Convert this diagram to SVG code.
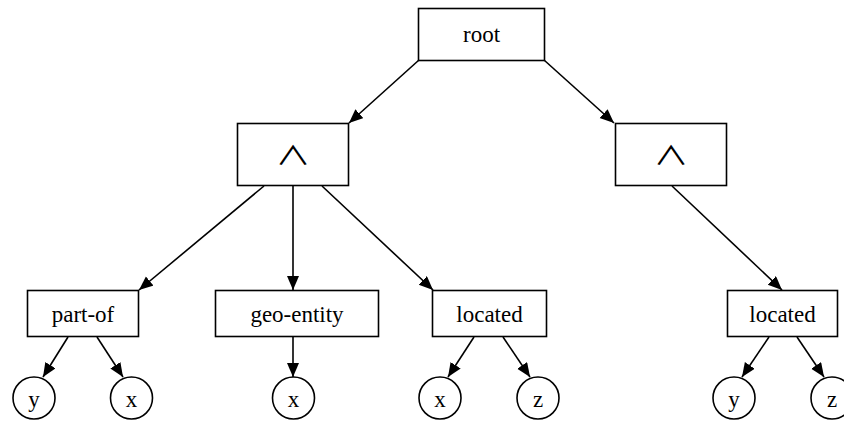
<svg xmlns="http://www.w3.org/2000/svg" width="844" height="426" viewBox="0 0 844 426">
<style>
.box{fill:#fff;stroke:#000;stroke-width:1.6}
.c{fill:#fff;stroke:#000;stroke-width:1.6}
text{font-family:"Liberation Serif","Times New Roman",serif;font-size:23px;fill:#000;text-anchor:middle}
.and{font-family:"Noto Sans CJK JP","DejaVu Sans",sans-serif;font-size:26px;font-weight:400}
.e{stroke:#000;stroke-width:1.6;fill:none;marker-end:url(#ah)}
</style>
<defs>
<marker id="ah" markerUnits="userSpaceOnUse" markerWidth="16" markerHeight="14" refX="14" refY="6" orient="auto" viewBox="0 0 16 14">
<path d="M0,0 L14,6 L0,12 z" fill="#000"/>
</marker>
</defs>
<rect width="844" height="426" fill="#fff"/>
<g id="connectors">
<line class="e" x1="419" y1="60" x2="349" y2="123"/>
<line class="e" x1="544" y1="60" x2="614" y2="123"/>
<line class="e" x1="264" y1="186" x2="139" y2="290"/>
<line class="e" x1="293" y1="186" x2="293" y2="290"/>
<line class="e" x1="322" y1="186" x2="433" y2="290"/>
<line class="e" x1="672" y1="186" x2="782" y2="290"/>
<line class="e" x1="68" y1="337" x2="43" y2="377"/>
<line class="e" x1="97" y1="337" x2="123" y2="377"/>
<line class="e" x1="293" y1="337" x2="293" y2="377"/>
<line class="e" x1="474" y1="337" x2="448" y2="377"/>
<line class="e" x1="503" y1="337" x2="530" y2="377"/>
<line class="e" x1="769" y1="337" x2="742" y2="377"/>
<line class="e" x1="797" y1="337" x2="824" y2="377"/>
</g>
<g id="root"><rect class="box" x="418.5" y="8.5" width="126" height="52"/><text x="481.5" y="42">root</text></g>
<g id="and1"><rect class="box" x="237.5" y="123.5" width="111" height="62"/><text class="and" transform="translate(293 165) scale(1.35 1)">∧</text></g>
<g id="and2"><rect class="box" x="615.5" y="123.5" width="111" height="62"/><text class="and" transform="translate(671 165) scale(1.35 1)">∧</text></g>
<g id="partof"><rect class="box" x="27.5" y="290.5" width="111" height="46"/><text x="83" y="322">part-of</text></g>
<g id="geoentity"><rect class="box" x="215.5" y="290.5" width="163" height="46"/><text x="297" y="322">geo-entity</text></g>
<g id="located1"><rect class="box" x="432.5" y="290.5" width="114" height="46"/><text x="489.5" y="322">located</text></g>
<g id="located2"><rect class="box" x="727.5" y="290.5" width="110" height="46"/><text x="782.5" y="322">located</text></g>
<g id="y1"><circle class="c" cx="34" cy="398" r="21"/><text x="34" y="407">y</text></g>
<g id="x1"><circle class="c" cx="131.5" cy="398" r="21"/><text x="131.5" y="407">x</text></g>
<g id="x2"><circle class="c" cx="293.5" cy="398" r="21"/><text x="293.5" y="407">x</text></g>
<g id="x3"><circle class="c" cx="440" cy="398" r="21"/><text x="440" y="407">x</text></g>
<g id="z1"><circle class="c" cx="538" cy="398" r="21"/><text x="538" y="407">z</text></g>
<g id="y2"><circle class="c" cx="734" cy="398" r="21"/><text x="734" y="407">y</text></g>
<g id="z2"><circle class="c" cx="832" cy="398" r="21"/><text x="832" y="407">z</text></g>
</svg>
